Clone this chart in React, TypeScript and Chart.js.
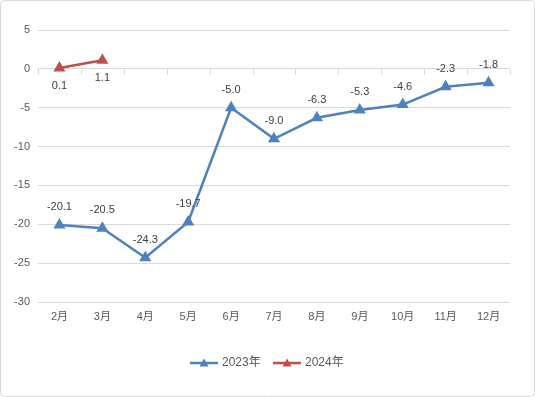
import React, { useEffect, useRef } from "react";
import { Chart, registerables } from "chart.js";

Chart.register(...registerables);

const categories = ["2月", "3月", "4月", "5月", "6月", "7月", "8月", "9月", "10月", "11月", "12月"];
const series2023 = [-20.1, -20.5, -24.3, -19.7, -5.0, -9.0, -6.3, -5.3, -4.6, -2.3, -1.8];
const series2024: (number | null)[] = [0.1, 1.1, null, null, null, null, null, null, null, null, null];
const seriesNames = ["2023年", "2024年"];
const seriesColors = ["#4F81BD", "#C0504D"];
const labelPositions = ["above", "below"];

const FONT = "'Liberation Sans', 'Noto Sans CJK SC', sans-serif";

const framePlugin = {
  id: "frame",
  beforeDraw(chart: any) {
    const { ctx, width, height } = chart;
    ctx.save();
    ctx.fillStyle = "#ffffff";
    ctx.fillRect(0, 0, width, height);
    ctx.strokeStyle = "#d9d9d9";
    ctx.lineWidth = 1;
    ctx.beginPath();
    (ctx as any).roundRect(0.5, 0.5, width - 1, height - 1, 4);
    ctx.stroke();
    ctx.restore();
  },
};

const zeroTicksPlugin = {
  id: "zeroTicks",
  beforeDatasetsDraw(chart: any) {
    const { ctx, chartArea, scales } = chart;
    const y0 = Math.round(scales.y.getPixelForValue(0)) + 0.5;
    const n = categories.length;
    const w = (chartArea.right - chartArea.left) / n;
    ctx.save();
    ctx.strokeStyle = "#d9d9d9";
    ctx.lineWidth = 1;
    ctx.beginPath();
    for (let i = 0; i <= n; i++) {
      const x = Math.round(chartArea.left + i * w) + 0.5;
      ctx.moveTo(x, y0);
      ctx.lineTo(x, y0 + 5);
    }
    ctx.stroke();
    ctx.restore();
  },
};

const dataLabelPlugin = {
  id: "dataLabels",
  afterDatasetsDraw(chart: any) {
    const { ctx } = chart;
    ctx.save();
    ctx.font = `11px ${FONT}`;
    ctx.fillStyle = "#404040";
    ctx.textAlign = "center";
    ctx.textBaseline = "middle";
    chart.data.datasets.forEach((ds: any, di: number) => {
      const meta = chart.getDatasetMeta(di);
      meta.data.forEach((pt: any, i: number) => {
        const v = ds.data[i];
        if (v === null || v === undefined) return;
        const dy = labelPositions[di] === "above" ? -18 : 18;
        ctx.fillText(v.toFixed(1), pt.x, pt.y + dy);
      });
    });
    ctx.restore();
  },
};

const legendPlugin = {
  id: "customLegend",
  afterDraw(chart: any) {
    const { ctx } = chart;
    const y = 363;
    ctx.save();
    ctx.font = `12px ${FONT}`;
    ctx.textBaseline = "middle";
    ctx.textAlign = "left";
    const starts = [190, 273];
    seriesNames.forEach((name, i) => {
      const x = starts[i];
      ctx.strokeStyle = seriesColors[i];
      ctx.lineWidth = 2.5;
      ctx.beginPath();
      ctx.moveTo(x, y);
      ctx.lineTo(x + 28, y);
      ctx.stroke();
      ctx.fillStyle = seriesColors[i];
      ctx.beginPath();
      ctx.moveTo(x + 14, y - 4.5);
      ctx.lineTo(x + 18.5, y + 3.5);
      ctx.lineTo(x + 9.5, y + 3.5);
      ctx.closePath();
      ctx.fill();
      ctx.fillStyle = "#595959";
      ctx.fillText(name, x + 32, y);
    });
    ctx.restore();
  },
};

export default function App() {
  const ref = useRef<HTMLCanvasElement | null>(null);
  useEffect(() => {
    document.body.style.margin = "0";
    const c = ref.current;
    if (!c) return;
    const chart = new Chart(c, {
      type: "line",
      data: {
        labels: categories,
        datasets: [
          {
            label: seriesNames[0],
            data: series2023,
            borderColor: seriesColors[0],
            backgroundColor: seriesColors[0],
            borderWidth: 2.5,
            pointStyle: "triangle",
            pointRadius: 4.5,
            pointHoverRadius: 4.5,
            tension: 0,
          },
          {
            label: seriesNames[1],
            data: series2024,
            borderColor: seriesColors[1],
            backgroundColor: seriesColors[1],
            borderWidth: 2.5,
            pointStyle: "triangle",
            pointRadius: 4.5,
            pointHoverRadius: 4.5,
            tension: 0,
            spanGaps: false,
          },
        ],
      },
      options: {
        responsive: false,
        animation: false,
        layout: { padding: { left: 0, right: 25, top: 30, bottom: 0 } },
        plugins: {
          legend: { display: false },
          tooltip: { enabled: false },
        },
        scales: {
          x: {
            offset: true,
            grid: { display: false, drawTicks: false },
            border: { display: false },
            ticks: { color: "#595959", font: { size: 11, family: FONT }, padding: 8, maxRotation: 0 },
            afterFit: (s: any) => {
              s.height = 95;
            },
          },
          y: {
            min: -30,
            max: 5,
            ticks: { stepSize: 5, color: "#595959", font: { size: 11, family: FONT }, padding: 8 },
            grid: { color: "#d9d9d9", drawTicks: false },
            border: { display: false },
            afterFit: (s: any) => {
              s.width = 38;
            },
          },
        },
      },
      plugins: [framePlugin, zeroTicksPlugin, dataLabelPlugin, legendPlugin],
    });
    return () => chart.destroy();
  }, []);
  return <canvas ref={ref} width={535} height={397} style={{ display: "block" }} />;
}
